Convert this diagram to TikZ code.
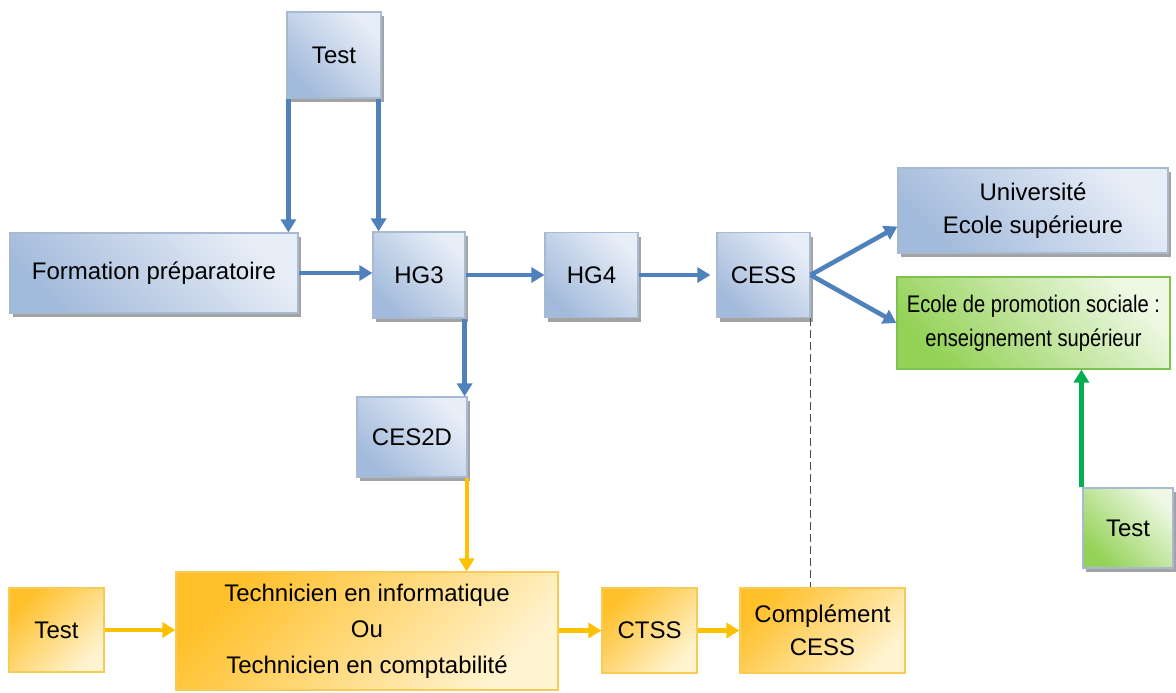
\documentclass[tikz,border=0pt]{standalone}
\usepackage{fontspec}
\setmainfont{Liberation Sans}
\newfontfamily\narrowsans{Liberation Sans}[FakeStretch=0.84]
\usetikzlibrary{arrows.meta,shadows}

\definecolor{boxedge}{HTML}{A7BAD2}
\definecolor{bluetop}{HTML}{E8EEF7}
\definecolor{bluebottom}{HTML}{A2BADB}
\definecolor{bluearrow}{HTML}{4F81BD}
\definecolor{yellowedge}{HTML}{F8CB55}
\definecolor{yellowtop}{HTML}{FFC02A}
\definecolor{yellowbottom}{HTML}{FFF3D0}
\definecolor{yellowarrow}{HTML}{FFC000}
\definecolor{greenedge}{HTML}{7DC24F}
\definecolor{greentop}{HTML}{EEF8E4}
\definecolor{greenbottom}{HTML}{94D257}
\definecolor{greenarrow}{HTML}{00B050}

\begin{document}
\begin{tikzpicture}[x=0.5pt, y=-0.5pt]
    \tikzstyle{blue box}=[
        draw = boxedge,
        line width = 0.6pt,
        top color = bluetop,
        bottom color = bluebottom,
        shading angle = -45,
        drop shadow = {shadow xshift=1.5pt, shadow yshift=-2pt, fill=black!45, opacity=0.8},
        inner sep = 0pt,
        align = center,
        font = \fontsize{12}{16.5}\selectfont
    ]
    \tikzstyle{yellow box}=[
        draw = yellowedge,
        line width = 0.6pt,
        top color = yellowtop,
        bottom color = yellowbottom,
        shading angle = 45,
        inner sep = 0pt,
        align = center,
        font = \fontsize{12}{16.5}\selectfont
    ]
    \tikzstyle{green box}=[
        draw = greenedge,
        line width = 0.6pt,
        top color = greentop,
        bottom color = greenbottom,
        shading angle = -45,
        inner sep = 0pt,
        align = center,
        font = \fontsize{12}{16.5}\selectfont
    ]
    \tikzstyle{blue arrow}=[bluearrow, line width=2.3pt, -{Triangle[length=6.5pt, width=7.5pt]}]
    \tikzstyle{yellow arrow}=[yellowarrow, line width=2.1pt, -{Triangle[length=6.5pt, width=7.5pt]}]
    \tikzstyle{green arrow}=[greenarrow, line width=2.3pt, -{Triangle[length=6.5pt, width=7.5pt]}]
    \tikzstyle{dash line}=[black!70, line width=0.8pt, dash pattern=on 4pt off 2pt]

    \useasboundingbox (0, 0) rectangle (1176, 692);

	\node[blue box, minimum width=47pt, minimum height=43pt]     (testA) at (334, 55)      {Test};
	\node[blue box, minimum width=144pt, minimum height=40pt]    (form)  at (154, 273)     {Formation préparatoire};
	\node[blue box, minimum width=46pt, minimum height=43pt]     (hg3)   at (419, 275)     {HG3};
	\node[blue box, minimum width=46.5pt, minimum height=42.5pt] (hg4)   at (591.5, 275)   {HG4};
	\node[blue box, minimum width=46.5pt, minimum height=42.5pt] (cess)  at (763.5, 275)   {CESS};
	\node[blue box, minimum width=135pt, minimum height=42.5pt]  (univ)  at (1033, 210.5)  {Université\\Ecole supérieure};
	\node[green box, minimum width=136.5pt, minimum height=46pt, font=\narrowsans\fontsize{12}{17}\selectfont]
	                                                             (ecole) at (1033.5, 323)  {Ecole de promotion sociale :\\enseignement supérieur};
	\node[blue box, minimum width=55pt, minimum height=40pt]     (ces2d) at (412, 437)     {CES2D};
	\node[blue box, minimum width=45pt, minimum height=40pt, top color=greentop, bottom color=greenbottom, shading angle=-45]
	                                                             (testC) at (1128, 528)    {Test};
	\node[yellow box, minimum width=47.5pt, minimum height=42pt] (testB) at (56.5, 630)    {Test};
	\node[yellow box, minimum width=191pt, minimum height=59pt, font=\fontsize{12}{18}\selectfont]
	                                                             (techn) at (367, 631)     {Technicien en informatique\\Ou\\Technicien en comptabilité};
	\node[yellow box, minimum width=47.5pt, minimum height=42.5pt] (ctss) at (649.5, 630.5) {CTSS};
	\node[yellow box, minimum width=82.5pt, minimum height=42.5pt] (compl) at (822.5, 630.5) {Complément\\CESS};

	\draw[blue arrow] ([xshift=1pt]testA.south west) -- ([xshift=1pt]testA.south west |- form.north);
	\draw[blue arrow] ([xshift=-1.5pt]testA.south east) -- ([xshift=-1.5pt]testA.south east |- hg3.north);
	\draw[blue arrow] (form.east) -- (form.east -| hg3.west);
	\draw[blue arrow] (hg3.east) -- (hg3.east -| hg4.west);
	\draw[blue arrow] (hg4.east) -- ([xshift=-3pt]hg4.east -| cess.west);
	\draw[blue arrow] (cess.east) -- ([yshift=-8pt]univ.west);
	\draw[blue arrow] (cess.east) -- (ecole.west);
	\draw[blue arrow] ([xshift=-0.5pt]hg3.south east) -- ([xshift=-0.5pt]hg3.south east |- ces2d.north);
	\draw[yellow arrow] ([xshift=-0.5pt]ces2d.south east) -- ([xshift=-0.5pt]ces2d.south east |- techn.north);
	\draw[yellow arrow] (testB.east) -- (testB.east -| techn.west);
	\draw[yellow arrow] (techn.east |- ctss.west) -- (ctss.west);
	\draw[yellow arrow] (ctss.east) -- (compl.west);
	\draw[green arrow] ([xshift=-0.5pt]testC.north west) -- ([xshift=-0.5pt]testC.north west |- ecole.south);
	\draw[dash line] (cess.south east) -- (cess.south east |- compl.north);

\end{tikzpicture}
\end{document}
